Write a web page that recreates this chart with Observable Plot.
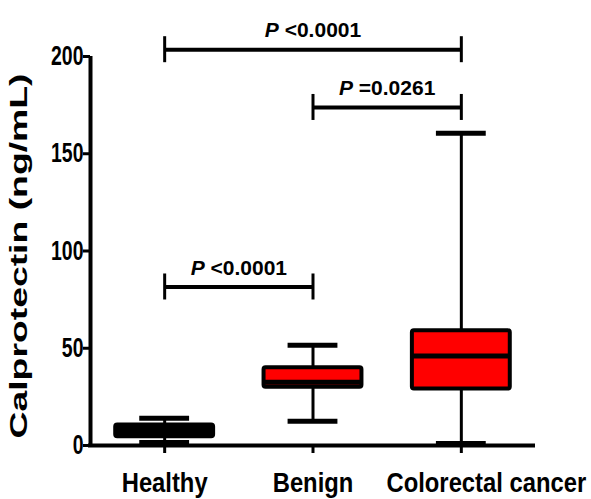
<!DOCTYPE html>
<html>
<head>
<meta charset="utf-8">
<script src="https://cdn.jsdelivr.net/npm/d3@7"></script>
<script src="https://cdn.jsdelivr.net/npm/@observablehq/plot@0.6"></script>
<style>
  html, body { margin: 0; padding: 0; background: #fff; }
  #chart svg { display: block; }
</style>
</head>
<body>
<div id="chart"></div>
<script>
// ---- data ----
const groups = ["Healthy", "Benign", "Colorectal cancer"];
const whiskerLow = [1.5, 12.5, 1];
const q1 = [4.5, 30, 29];
const median = [7.5, 32.5, 46];
const q3 = [10.5, 40, 59];
const whiskerHigh = [14, 51.5, 160.5];
const yTicks = [0, 50, 100, 150, 200];
const compFrom = ["Healthy", "Benign", "Healthy"];
const compTo = ["Colorectal cancer", "Colorectal cancer", "Benign"];
const compY = [203.5, 173.8, 81.5];
const compLabel = ["P <0.0001", "P =0.0261", "P <0.0001"];
const yLabel = "Calprotectin (ng/mL)";

const boxes = groups.map((g, i) => ({
  g, i, lo: whiskerLow[i], q1: q1[i], med: median[i], q3: q3[i], hi: whiskerHigh[i]
}));
const comps = compLabel.map((label, k) => ({
  label, a: groups.indexOf(compFrom[k]), b: groups.indexOf(compTo[k]), y: compY[k]
}));

const BW = 0.33;   // box half width (x units)
const CW = 0.168;  // cap half width
const font = "'Liberation Sans', Arial, sans-serif";

const chart = Plot.plot({
  width: 591,
  height: 499,
  marginLeft: 90,
  marginRight: 56,
  marginTop: 56,
  marginBottom: 54,
  x: {type: "linear", domain: [-0.5, 2.5], axis: null},
  y: {domain: [0, 200], axis: null},
  style: {fontFamily: font, fontWeight: "bold", color: "black", background: "white", overflow: "visible"},
  marks: [
    // axis lines
    Plot.ruleX([-0.5], {y1: 0, y2: 200, strokeWidth: 4, stroke: "black"}),
    Plot.ruleY([0], {x1: -0.5, x2: 2.5, strokeWidth: 4, stroke: "black", insetLeft: -2}),
    // y ticks
    Plot.ruleY(yTicks, {x1: -0.5, x2: -0.5, insetLeft: -7, strokeWidth: 3, stroke: "black"}),
    Plot.text(yTicks, {x: -0.5, y: d => d, dx: -7, textAnchor: "end", fontSize: 27, fontWeight: "bold"}),
    // x ticks
    Plot.ruleX([0, 1, 2], {y1: 0, y2: 0, insetBottom: -8, strokeWidth: 3, stroke: "black"}),
    Plot.text(groups, {filter: (d, i) => i < 2, x: (d, i) => i, y: 0, dy: 27, lineAnchor: "top", fontSize: 28, fontWeight: "bold"}),
    Plot.text(groups, {filter: (d, i) => i === 2, x: (d, i) => i, y: 0, dy: 27, dx: 25, lineAnchor: "top", fontSize: 28, fontWeight: "bold"}),
    // y label
    Plot.text([yLabel], {frameAnchor: "left", textAnchor: "middle", dx: -71, dy: 5, rotate: -90, fontSize: 23, fontWeight: "bold"}),
    // whiskers
    Plot.ruleX(boxes, {x: "i", y1: "lo", y2: "q1", strokeWidth: 3, stroke: "black"}),
    Plot.ruleX(boxes, {x: "i", y1: "q3", y2: "hi", strokeWidth: 3, stroke: "black"}),
    // caps
    Plot.ruleY(boxes, {x1: d => d.i - CW, x2: d => d.i + CW, y: "lo", strokeWidth: 5, stroke: "black"}),
    Plot.ruleY(boxes, {x1: d => d.i - CW, x2: d => d.i + CW, y: "hi", strokeWidth: 5, stroke: "black"}),
    // boxes
    Plot.rect(boxes, {x1: d => d.i - BW, x2: d => d.i + BW, y1: "q1", y2: "q3",
      fill: d => d.g === "Healthy" ? "black" : "#ff0000", stroke: "black", strokeWidth: 4, rx: 2}),
    Plot.ruleY(boxes, {x1: d => d.i - BW, x2: d => d.i + BW, y: "med", strokeWidth: 5, stroke: "black"}),
    // significance brackets
    Plot.ruleY(comps, {x1: "a", x2: "b", y: "y", strokeWidth: 4, stroke: "black"}),
    Plot.ruleX(comps, {x: "a", y1: "y", y2: "y", insetTop: -13, insetBottom: -13, strokeWidth: 3, stroke: "black"}),
    Plot.ruleX(comps, {x: "b", y1: "y", y2: "y", insetTop: -13, insetBottom: -13, strokeWidth: 3, stroke: "black"}),
    Plot.text(comps, {x: d => (d.a + d.b) / 2, y: "y", text: "label", dy: -19, fontSize: 21, fontWeight: "bold"})
  ]
});

document.getElementById("chart").appendChild(chart);

// horizontal scaling of a text element about its anchor point
function scaleText(el, sx) {
  const tr = el.getAttribute("transform");
  if (tr && /translate/.test(tr)) {
    el.setAttribute("transform", tr + ` scale(${sx},1)`);
  } else {
    const x = +(el.getAttribute("x") || 0), y = +(el.getAttribute("y") || 0);
    el.setAttribute("transform", `${tr || ""} translate(${x},${y}) scale(${sx},1) translate(${-x},${-y})`);
  }
}

const tickStrings = yTicks.map(String);
d3.select(chart).selectAll("text").each(function() {
  const t = this.textContent;
  if (compLabel.includes(t)) {
    const sel = d3.select(this);
    sel.text(null);
    sel.append("tspan").attr("font-style", "italic").text(t.slice(0, 1));
    sel.append("tspan").text(t.slice(1));
  } else if (t === yLabel) {
    const len = this.getComputedTextLength();
    scaleText(this, 365 / len);
  } else if (tickStrings.includes(t)) {
    scaleText(this, 0.72);
  } else if (groups.includes(t)) {
    scaleText(this, 0.85);
  }
});
</script>
</body>
</html>
